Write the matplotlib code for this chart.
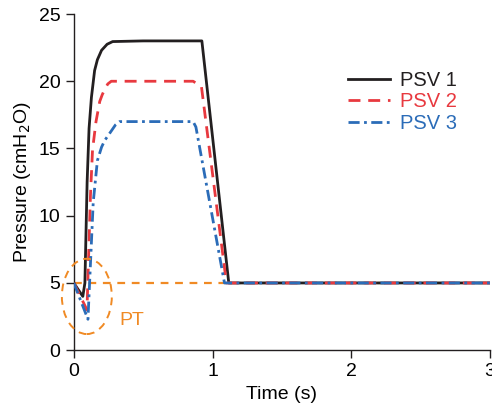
import matplotlib
matplotlib.use("Agg")
import matplotlib.pyplot as plt
from matplotlib.patches import Ellipse

plt.rcParams['font.family'] = ['Liberation Sans', 'DejaVu Sans']

# values
t1 = [0, 0.065, 0.08, 0.096, 0.11, 0.127, 0.15, 0.17, 0.2, 0.24, 0.28, 0.5, 0.923, 1.117, 3.0]
p1 = [5, 4.0, 5.0, 12.5, 16.5, 18.8, 20.8, 21.6, 22.3, 22.75, 22.95, 23, 23, 5, 5]

t2 = [0, 0.095, 0.12, 0.135, 0.16, 0.187, 0.205, 0.223, 0.245, 0.27, 0.5, 0.86, 0.92, 1.1, 3.0]
p2 = [5, 3.0, 11.5, 14.9, 17.0, 18.5, 19.0, 19.4, 19.8, 20.0, 20, 20, 19.6, 5, 5]

t3 = [0, 0.102, 0.14, 0.17, 0.2, 0.223, 0.25, 0.27, 0.3, 0.33, 0.5, 0.86, 0.88, 1.086, 3.0]
p3 = [5, 2.3, 11.0, 14.1, 15.1, 15.6, 16.0, 16.3, 16.75, 17.0, 17, 17, 16.6, 5, 5]

labels = ['PSV 1', 'PSV 2', 'PSV 3']
colors = ['#231f20', '#e8393f', '#2b6cb8']
orange = '#f08a24'
baseline = 5

fig = plt.figure(figsize=(4.92, 4.12), dpi=100)
ax = fig.add_axes([0.150, 0.150, 0.846, 0.816])

ax.plot([0, 3], [baseline, baseline], color=orange, lw=1.6, dashes=(3.5, 3), zorder=1)
ax.plot(t1, p1, color=colors[0], lw=2.0, label=labels[0], zorder=2)
ax.plot(t2, p2, color=colors[1], lw=2.0, dashes=(4.3, 2.8), label=labels[1], zorder=3)
ax.plot(t3, p3, color=colors[2], lw=2.0, dashes=(4.0, 1.6, 1.0, 1.6), label=labels[2], zorder=4)

ell = Ellipse((0.094, 4.0), 0.36, 5.6, fill=False, edgecolor=orange, lw=1.4,
              ls=(0, (4, 3)), clip_on=False, zorder=5)
ax.add_patch(ell)
ax.text(0.33, 2.2, 'PT', color=orange, fontsize=14, va='center', ha='left')

ax.set_xlim(0, 3)
ax.set_ylim(0, 25)
ax.set_xticks([0, 1, 2, 3])
ax.set_yticks([0, 5, 10, 15, 20, 25])
ax.spines['top'].set_visible(False)
ax.spines['right'].set_visible(False)
for s in ['left', 'bottom']:
    ax.spines[s].set_color('#231f20')
    ax.spines[s].set_linewidth(1.0)
ax.tick_params(direction='out', length=6, width=1.0, labelsize=14, color='#231f20')
ax.set_xlabel('Time (s)', fontsize=14)
ax.set_ylabel('Pressure (cmH$_2$O)', fontsize=14)

leg = ax.legend(loc='upper left', bbox_to_anchor=(0.615, 0.885), frameon=False, fontsize=14.5,
                handlelength=2.1, labelspacing=0.12, handletextpad=0.5,
                labelcolor=colors)

fig.savefig('out.png', dpi=100)
